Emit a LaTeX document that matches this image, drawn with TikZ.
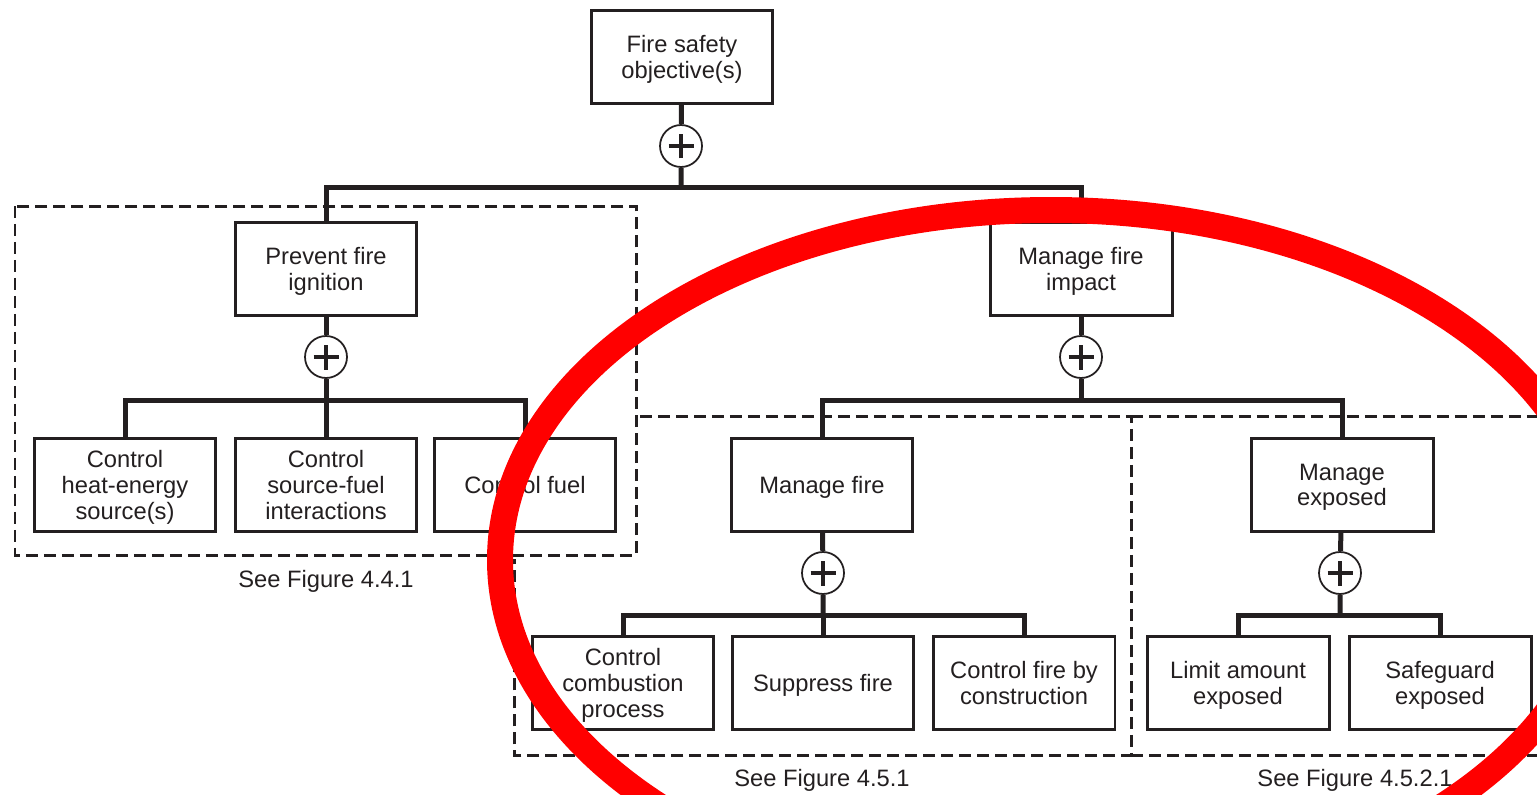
\documentclass[tikz,border=0pt]{standalone}
\usepackage{fontspec}
\setmainfont{Liberation Sans}
\definecolor{ink}{RGB}{35,31,32}
\definecolor{markred}{RGB}{255,0,0}

\begin{document}
\begin{tikzpicture}[x=0.02cm,y=-0.02cm,
    every node/.style={font=\fontsize{13.5}{14.6}\selectfont, text=ink},
    goalbox/.style={draw=ink, line width=0.06cm, minimum width=3.64cm, minimum height=1.86cm, align=center, inner sep=2pt, text depth=0pt},
    andgate/.style={circle, draw=ink, line width=0.035cm, minimum size=0.84cm, inner sep=0pt,
        path picture={\draw[ink, line width=0.07cm]
            ([xshift=-0.25cm]path picture bounding box.center) -- ([xshift=0.25cm]path picture bounding box.center)
            ([yshift=-0.25cm]path picture bounding box.center) -- ([yshift=0.25cm]path picture bounding box.center);}},
    bar/.style={draw=ink, line width=0.1cm},
    groupbox/.style={draw=ink, line width=0.06cm, dash pattern=on 0.24cm off 0.12cm}]
    \useasboundingbox (0,0) rectangle (1537,794);
    \clip (0,0) rectangle (1537,794);

    \draw[groupbox] (15,206) rectangle (636,555);
    \draw[groupbox] (640,416) -- (1131,416) -- (1131,755) -- (514,755) -- (514,559);
    \draw[groupbox] (1131,416) -- (1560,416) (1131,755) -- (1560,755);

    \node[goalbox] (objective) at (682,57) {Fire safety\\objective(s)};
    \node[andgate] (and0) at (681,146) {};
    \coordinate (split0) at (681,187);

    \node[goalbox] (prevent) at (326,269) {Prevent fire\\ignition};
    \node[andgate] (and1) at (326,357) {};
    \coordinate (split1) at (326,400);
    \node[goalbox] (heat) at (125,485) {Control\\heat-energy\\source(s)};
    \node[goalbox] (srcfuel) at (326,485) {Control\\source-fuel\\interactions};
    \node[goalbox] (fuel) at (525,485) {Control fuel};

    \node[goalbox] (impact) at (1081,269) {Manage fire\\impact};
    \node[andgate] (and2) at (1081,357) {};
    \coordinate (split2) at (1081,400);
    \node[goalbox] (managefire) at (822,485) {Manage fire};
    \node[goalbox] (manageexp) at (1342,485) {Manage\\exposed};

    \node[andgate] (and3) at (823,573) {};
    \coordinate (split3) at (823,615);
    \node[goalbox] (combustion) at (623,683) {Control\\combustion\\process};
    \node[goalbox] (suppress) at (823,683) {Suppress fire};
    \node[goalbox] (construction) at (1024,683) {Control fire by\\construction};

    \node[andgate] (and4) at (1340,573) {};
    \coordinate (split4) at (1340,615);
    \node[goalbox] (limit) at (1238,683) {Limit amount\\exposed};
    \node[goalbox] (safeguard) at (1440,683) {Safeguard\\exposed};

    \foreach \x/\y/\fig/\name in {326/581/4.4.1/seeA, 822/780/4.5.1/seeB, 1355/780/4.5.2.1/seeC}
    {
        \node (\name) at (\x,\y) {See Figure \fig};
    }

    \draw[bar] (objective) -- (and0) -- (split0);
    \draw[bar] (split0) -| (prevent);
    \draw[bar] (split0) -| (impact);

    \draw[bar] (prevent) -- (and1) -- (split1);
    \draw[bar] (split1) -| (heat);
    \draw[bar] (split1) -- (srcfuel);
    \draw[bar] (split1) -| (fuel);

    \draw[bar] (impact) -- (and2) -- (split2);
    \draw[bar] (split2) -| (managefire);
    \draw[bar] (split2) -| (manageexp);

    \draw[bar] (managefire) -- (and3) -- (split3);
    \draw[bar] (split3) -| (combustion);
    \draw[bar] (split3) -- (suppress);
    \draw[bar] (split3) -| (construction);

    \draw[bar] (manageexp) -- (and4) -- (split4);
    \draw[bar] (split4) -| (limit);
    \draw[bar] (split4) -| (safeguard);

    \draw[markred, line width=0.52cm] (1051,560) ellipse [x radius=551, y radius=350];
\end{tikzpicture}
\end{document}
